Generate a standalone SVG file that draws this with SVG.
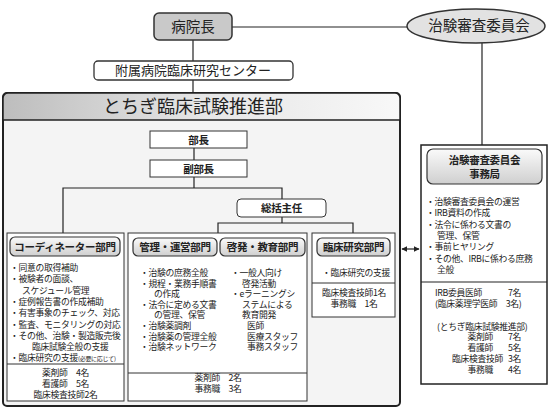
<svg xmlns="http://www.w3.org/2000/svg" width="550" height="408" viewBox="0 0 550 408">
<style>
text{font-family:"Noto Sans CJK JP","Noto Sans CJK SC",sans-serif;fill:#222}
.b{font-size:8.8px;letter-spacing:-0.3px}
.h{font-size:10.5px;font-weight:bold;text-anchor:middle;letter-spacing:-0.3px}
.c{text-anchor:middle}
.box{fill:#fff;stroke:#333;stroke-width:1}
.sub{fill:url(#gs);stroke:#333;stroke-width:1.2}
.ln{fill:none;stroke:#222;stroke-width:1.2}
</style>
<defs>
<linearGradient id="gh" x1="0" y1="0" x2="1" y2="0"><stop offset="0" stop-color="#bdbdbd"/><stop offset="0.5" stop-color="#e6e6e6"/><stop offset="1" stop-color="#f8f8f8"/></linearGradient>
<linearGradient id="gs" x1="0" y1="0" x2="0" y2="1"><stop offset="0" stop-color="#fafafa"/><stop offset="1" stop-color="#cfcfcf"/></linearGradient>
<marker id="ah" viewBox="0 0 10 10" refX="9" refY="5" markerWidth="5" markerHeight="5" orient="auto-start-reverse"><path d="M0,0L10,5L0,10z" fill="#222"/></marker>
</defs>

<g id="suishinbu">
<rect x="3" y="93" width="397" height="313" rx="4" fill="#f4f4f4" stroke="#222" stroke-width="2"/>
<path d="M3,120V98a5,5 0 0 1 5,-5H395a5,5 0 0 1 5,5V120z" fill="url(#gh)" stroke="#222" stroke-width="1.5"/>
<text x="193" y="113" class="c" font-size="18">とちぎ臨床試験推進部</text>
</g>

<g id="connectors" class="ln">
<line x1="232" y1="27" x2="407" y2="27"/>
<line x1="193" y1="40" x2="193" y2="61"/>
<line x1="193" y1="80" x2="193" y2="93"/>
<line x1="194" y1="148" x2="194" y2="160"/>
<polyline points="194,177 194,188"/>
<polyline points="63,233 63,188 282,188 282,199"/>
<line x1="282" y1="217" x2="282" y2="223"/>
<polyline points="218,233 218,223 353,223 353,233"/>
<line x1="482" y1="43" x2="482" y2="145"/>
<line x1="402" y1="249" x2="419" y2="249" marker-start="url(#ah)" marker-end="url(#ah)"/>
</g>

<g id="byoinchou">
<rect x="154" y="13" width="78" height="27" rx="5" fill="#c9c9c9" stroke="#333" stroke-width="1.5"/>
<text x="193" y="32" class="c" font-size="14.5">病院長</text>
</g>

<g id="chiken-iinkai">
<ellipse cx="476" cy="26" rx="69" ry="17" fill="#e2e2e2" stroke="#333" stroke-width="1.5"/>
<text x="479" y="31" class="c" font-size="14.5">治験審査委員会</text>
</g>

<g id="center">
<rect x="94" y="61" width="199" height="19" rx="4" fill="#fff" stroke="#333" stroke-width="1.3"/>
<text x="193" y="75" class="c" font-size="13">附属病院臨床研究センター</text>
</g>

<g id="buchou">
<rect x="150" y="131" width="97" height="17" class="box"/>
<text x="198.5" y="143.5" class="h">部長</text>
</g>
<g id="fukubuchou">
<rect x="150" y="160" width="97" height="17" class="box"/>
<text x="198.5" y="172.5" class="h">副部長</text>
</g>
<g id="soukatsu">
<rect x="237" y="199" width="89" height="18" rx="4" class="box"/>
<text x="281.5" y="212" class="h">総括主任</text>
</g>

<g id="coordinator">
<rect x="7" y="233" width="117" height="168" class="box"/>
<line x1="7" y1="364" x2="124" y2="364" stroke="#333"/>
<rect x="10" y="237" width="110" height="19" rx="5" class="sub"/>
<text x="65" y="250.5" class="h">コーディネーター部門</text>
<text class="b" x="10" y="271">・同意の取得補助</text>
<text class="b" x="10" y="282.3">・被験者の面談、</text>
<text class="b" x="22" y="293.6">スケジュール管理</text>
<text class="b" x="10" y="304.9">・症例報告書の作成補助</text>
<text class="b" x="10" y="316.2">・有害事象のチェック、対応</text>
<text class="b" x="10" y="327.5">・監査、モニタリングの対応</text>
<text class="b" x="10" y="338.8">・その他、治験・製造販売後</text>
<text class="b" x="32" y="350.1">臨床試験全般の支援</text>
<text class="b" x="10" y="361.4">・臨床研究の支援<tspan font-size="6">(必要に応じて)</tspan></text>
<text class="b c" x="65.5" y="376">薬剤師　4名</text>
<text class="b c" x="65.5" y="387">看護師　5名</text>
<text class="b c" x="65.5" y="398">臨床検査技師2名</text>
</g>

<g id="kanri-keihatsu">
<rect x="128" y="233" width="179" height="168" class="box"/>
<line x1="128" y1="373" x2="307" y2="373" stroke="#333"/>
<rect x="133" y="238" width="84" height="18" rx="5" class="sub"/>
<text x="175" y="250.5" class="h">管理・運営部門</text>
<rect x="220" y="238" width="85" height="18" rx="5" class="sub"/>
<text x="262.5" y="250.5" class="h">啓発・教育部門</text>
<text class="b" x="140" y="276">・治験の庶務全般</text>
<text class="b" x="140" y="286.6">・規程・業務手順書</text>
<text class="b" x="154" y="297.2">の作成</text>
<text class="b" x="140" y="307.8">・法令に定める文書</text>
<text class="b" x="154" y="318.4">の管理、保管</text>
<text class="b" x="140" y="329">・治験薬調剤</text>
<text class="b" x="140" y="339.6">・治験薬の管理全般</text>
<text class="b" x="140" y="350.2">・治験ネットワーク</text>
<text class="b" x="231" y="276">・一般人向け</text>
<text class="b" x="242" y="286.6">啓発活動</text>
<text class="b" x="231" y="297.2">・eラーニングシ</text>
<text class="b" x="242" y="307.8">ステムによる</text>
<text class="b" x="242" y="318.4">教育開発</text>
<text class="b" x="247" y="329">医師</text>
<text class="b" x="247" y="339.6">医療スタッフ</text>
<text class="b" x="247" y="350.2">事務スタッフ</text>
<text class="b c" x="218" y="381">薬剤師　2名</text>
<text class="b c" x="218" y="392">事務職　3名</text>
</g>

<g id="rinsho-kenkyu">
<rect x="312" y="233" width="83" height="84" class="box"/>
<line x1="312" y1="283" x2="395" y2="283" stroke="#333"/>
<rect x="317" y="238" width="73" height="18" rx="5" class="sub"/>
<text x="353.5" y="250.5" class="h">臨床研究部門</text>
<text class="b c" x="356" y="275.5">・臨床研究の支援</text>
<text class="b c" x="354" y="296">臨床検査技師1名</text>
<text class="b c" x="354" y="306.5">事務職　1名</text>
</g>

<g id="jimukyoku">
<rect x="421" y="145" width="126" height="239" fill="#fff" stroke="#222" stroke-width="1.5"/>
<line x1="421" y1="282" x2="547" y2="282" stroke="#222" stroke-width="1.2"/>
<rect x="427" y="149" width="115" height="35" rx="6" class="sub"/>
<text x="484.5" y="164" class="h" font-size="11">治験審査委員会</text>
<text x="484.5" y="178" class="h" font-size="11">事務局</text>
<text class="b" x="426" y="205">・治験審査委員会の運営</text>
<text class="b" x="426" y="216.3">・IRB資料の作成</text>
<text class="b" x="426" y="227.6">・法令に係わる文書の</text>
<text class="b" x="437" y="238.9">管理、保管</text>
<text class="b" x="426" y="250.2">・事前ヒヤリング</text>
<text class="b" x="426" y="261.5">・その他、IRBに係わる庶務</text>
<text class="b" x="437" y="272.8">全般</text>
<text class="b" x="435" y="296">IRB委員医師</text>
<text class="b" x="521" y="296" text-anchor="end">7名</text>
<text class="b" x="435" y="307">(臨床薬理学医師　3名)</text>
<text class="b" x="437" y="330">(とちぎ臨床試験推進部)</text>
<text class="b" x="493" y="340" text-anchor="end">薬剤師</text>
<text class="b" x="521" y="340" text-anchor="end">7名</text>
<text class="b" x="493" y="351" text-anchor="end">看護師</text>
<text class="b" x="521" y="351" text-anchor="end">5名</text>
<text class="b" x="503" y="361.5" text-anchor="end">臨床検査技師</text>
<text class="b" x="521" y="361.5" text-anchor="end">3名</text>
<text class="b" x="493" y="373" text-anchor="end">事務職</text>
<text class="b" x="521" y="373" text-anchor="end">4名</text>
</g>
</svg>
